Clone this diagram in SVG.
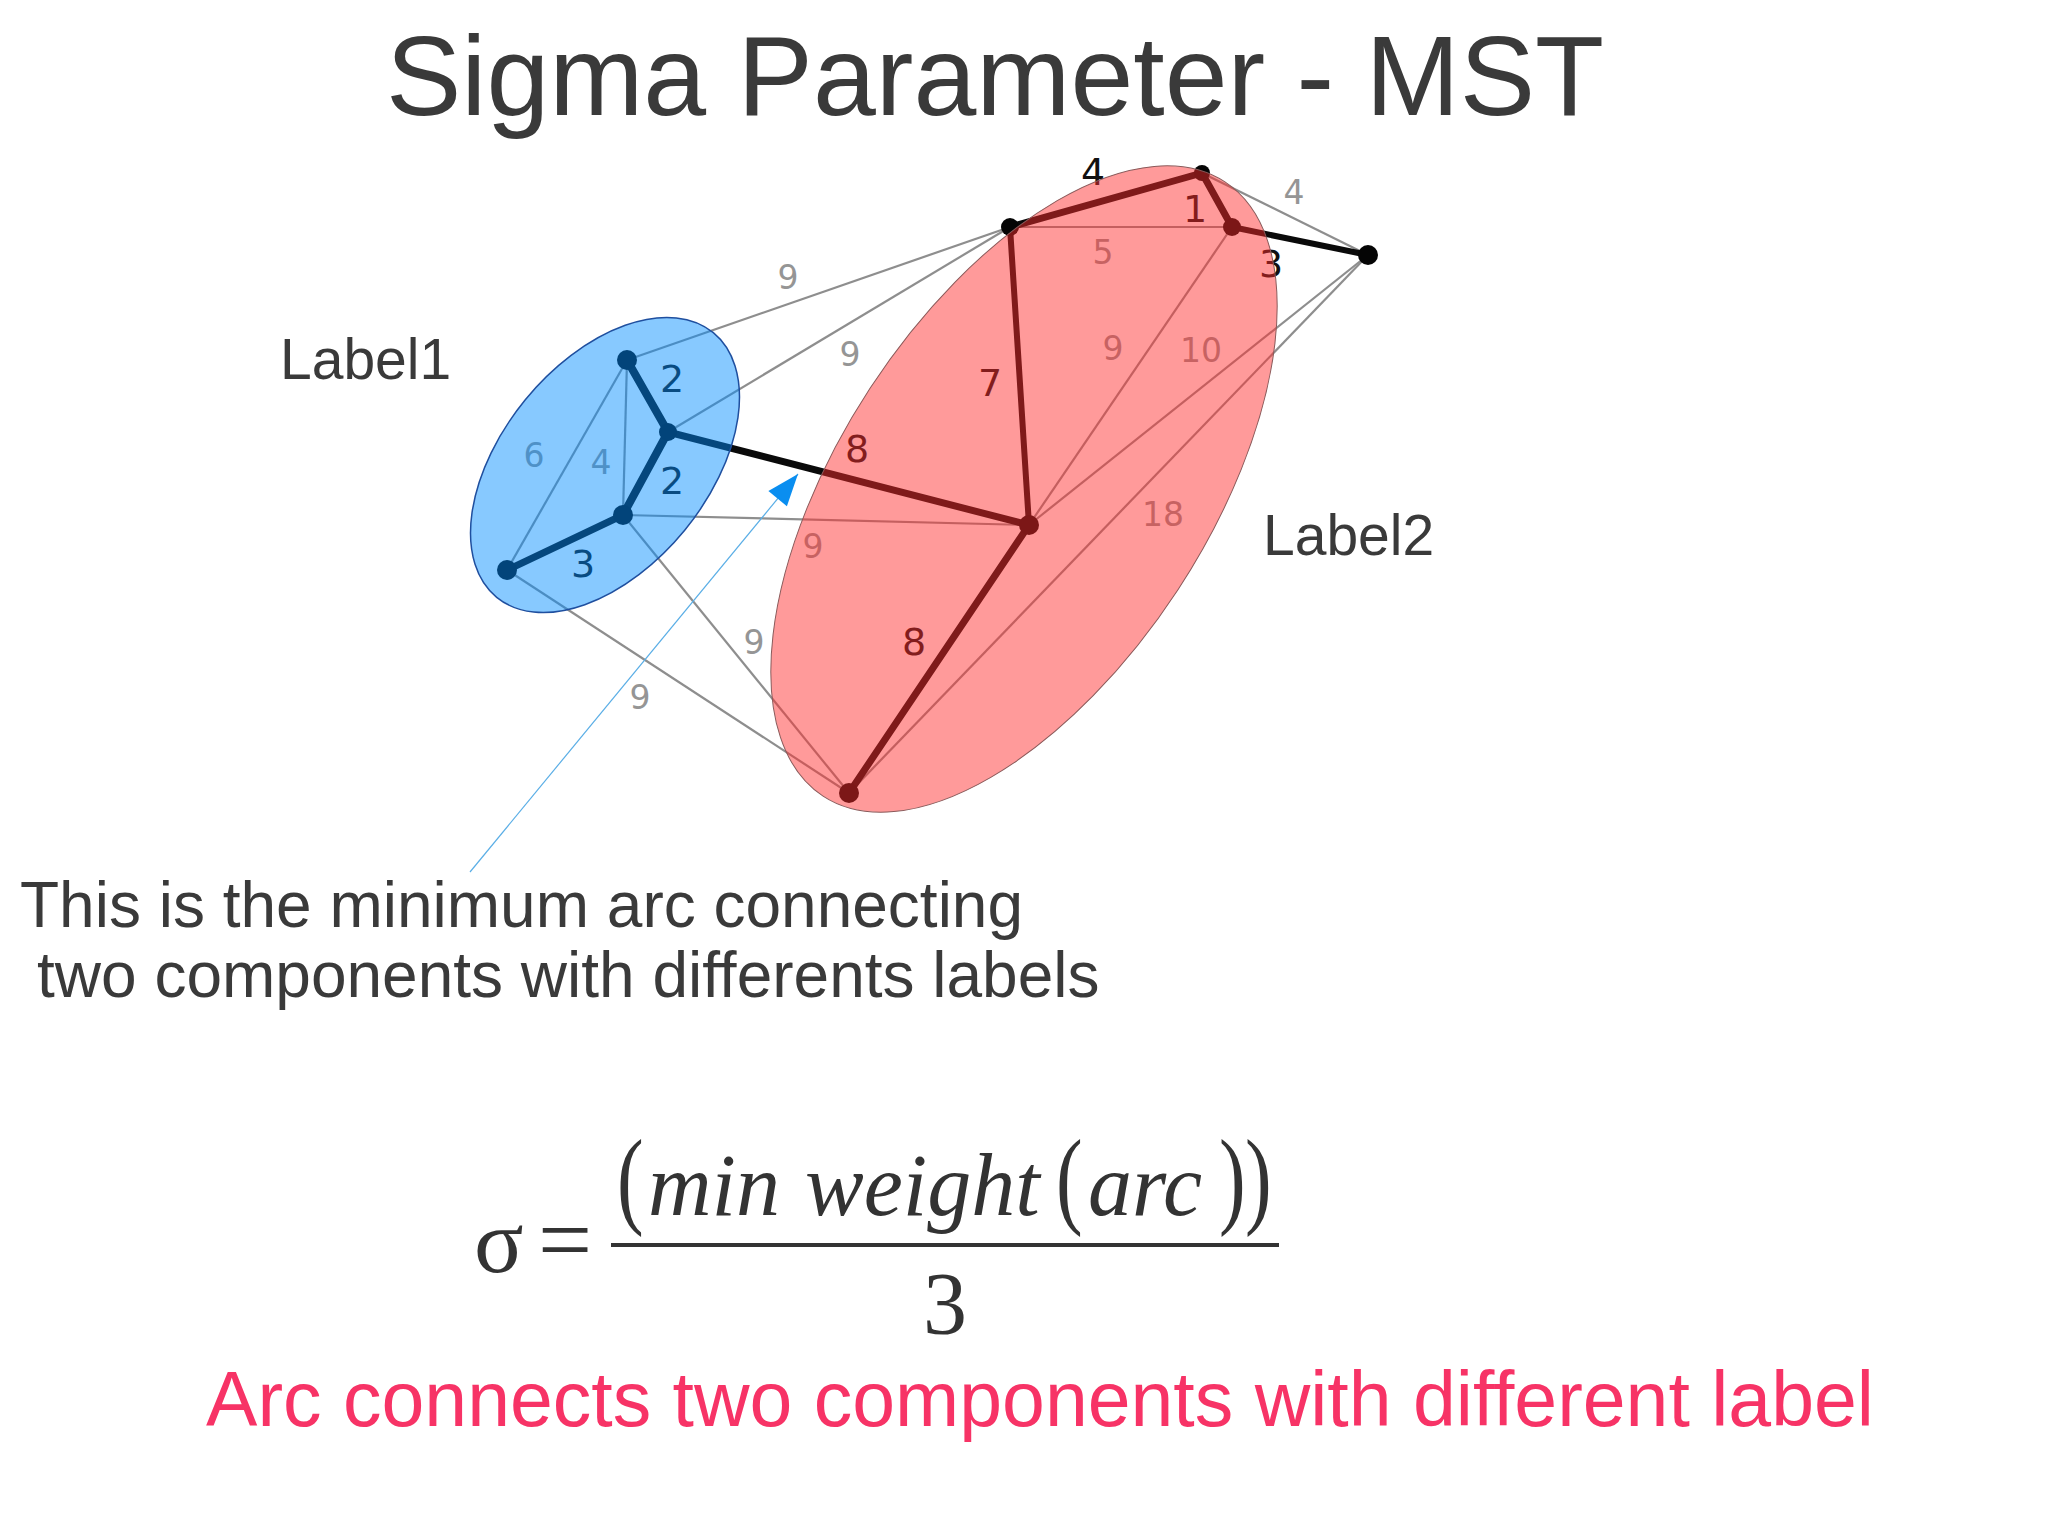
<svg xmlns="http://www.w3.org/2000/svg" width="2048" height="1535" viewBox="0 0 2048 1535">
<defs>
<style>
.sans{font-family:"Liberation Sans",Arial,sans-serif;fill:#3a3a3a}
.serif{font-family:"Liberation Serif","Times New Roman",serif;fill:#333}
.w{font-family:"DejaVu Sans",sans-serif;text-anchor:middle}
.wg{fill:#959595;font-size:33px}
.wk{fill:#111;font-size:38px}
.e{stroke:#8e8e8e;stroke-width:2.2;fill:none}
.m{stroke:#0a0a0a;stroke-linecap:round;fill:none}
.n{fill:#050505}
</style>
</defs>
<rect width="2048" height="1535" fill="#ffffff"/>
<text class="sans" x="995" y="115" font-size="113" text-anchor="middle">Sigma Parameter - MST</text>

<g id="connectors">
<line class="e" x1="627" y1="360" x2="1010" y2="227"/>
<line class="e" x1="668" y1="432" x2="1010" y2="227"/>
<line class="e" x1="627" y1="360" x2="507" y2="570" stroke-width="1.6"/>
<line class="e" x1="627" y1="360" x2="623" y2="515" stroke-width="1.6"/>
<line class="e" x1="623" y1="515" x2="1029" y2="525" stroke="#808080" stroke-width="2.6"/>
<line class="e" x1="623" y1="515" x2="849" y2="793"/>
<line class="e" x1="507" y1="570" x2="849" y2="793"/>
<line class="e" x1="1010" y1="227" x2="1232" y2="227" stroke-width="1.6"/>
<line class="e" x1="1202" y1="173" x2="1368" y2="255"/>
<line class="e" x1="1232" y1="227" x2="1029" y2="525" stroke-width="1.8"/>
<line class="e" x1="1368" y1="255" x2="1029" y2="525" stroke-width="1.8"/>
<line class="e" x1="1368" y1="255" x2="849" y2="793" stroke-width="1.8"/>
<line class="m" x1="627" y1="360" x2="668" y2="432" stroke-width="8"/>
<line class="m" x1="668" y1="432" x2="623" y2="515" stroke-width="8"/>
<line class="m" x1="623" y1="515" x2="507" y2="570" stroke-width="7"/>
<line class="m" x1="668" y1="432" x2="1029" y2="525" stroke-width="7"/>
<line class="m" x1="1010" y1="227" x2="1202" y2="173" stroke-width="7"/>
<line class="m" x1="1202" y1="173" x2="1232" y2="227" stroke-width="7"/>
<line class="m" x1="1232" y1="227" x2="1368" y2="255" stroke-width="6"/>
<line class="m" x1="1010" y1="227" x2="1029" y2="525" stroke-width="6"/>
<line class="m" x1="1029" y1="525" x2="849" y2="793" stroke-width="7"/>
</g>

<g id="edge-labels">
<text class="w wg" x="788" y="289">9</text>
<text class="w wg" x="850" y="366">9</text>
<text class="w wk" x="672" y="392">2</text>
<text class="w wk" x="672" y="494">2</text>
<text class="w wk" x="583" y="577">3</text>
<text class="w wg" x="534" y="467">6</text>
<text class="w wg" x="601" y="474">4</text>
<text class="w wk" x="857" y="462">8</text>
<text class="w wg" x="813" y="558">9</text>
<text class="w wg" x="754" y="654">9</text>
<text class="w wg" x="640" y="709">9</text>
<text class="w wk" x="1093" y="185">4</text>
<text class="w wk" x="1195" y="222">1</text>
<text class="w wg" x="1103" y="264">5</text>
<text class="w wg" x="1294" y="204">4</text>
<text class="w wk" x="1271" y="277">3</text>
<text class="w wk" x="990" y="396">7</text>
<text class="w wg" x="1113" y="360">9</text>
<text class="w wg" x="1201" y="362">10</text>
<text class="w wg" x="1163" y="526">18</text>
<text class="w wk" x="914" y="655">8</text>
</g>

<g id="node-A"><circle class="n" cx="627" cy="360" r="10"/></g>
<g id="node-B"><circle class="n" cx="668" cy="432" r="9"/></g>
<g id="node-C"><circle class="n" cx="623" cy="515" r="10"/></g>
<g id="node-D"><circle class="n" cx="507" cy="570" r="10"/></g>
<g id="node-E"><circle class="n" cx="1010" cy="227" r="9"/></g>
<g id="node-F"><circle class="n" cx="1202" cy="173" r="8"/></g>
<g id="node-G"><circle class="n" cx="1232" cy="227" r="9"/></g>
<g id="node-H"><circle class="n" cx="1368" cy="255" r="10"/></g>
<g id="node-I"><circle class="n" cx="1029" cy="525" r="10"/></g>
<g id="node-J"><circle class="n" cx="849" cy="793" r="10"/></g>

<g id="region-label1">
<ellipse cx="605" cy="465" rx="171" ry="103" transform="rotate(-50.7 605 465)" fill="rgb(0,140,255)" fill-opacity="0.47" stroke="#1f4f9f" stroke-width="1.5"/>
</g>
<g id="region-label2">
<ellipse cx="1024" cy="489" rx="367" ry="184" transform="rotate(-56.8 1024 489)" fill="rgb(255,44,44)" fill-opacity="0.48" stroke="#8a5a5a" stroke-width="1"/>
</g>

<text class="sans" x="280" y="379" font-size="57">Label1</text>
<text class="sans" x="1263" y="555" font-size="57">Label2</text>

<g id="pointer">
<line x1="470" y1="872" x2="798" y2="474" stroke="#5aaee6" stroke-width="1.2"/>
<polygon points="798,474 786.9,506.3 768.4,491.1" fill="#0a8ef0"/>
</g>

<text class="sans" x="20" y="927" font-size="64">This is the minimum arc connecting</text>
<text class="sans" x="37" y="997" font-size="64">two components with differents labels</text>

<g id="formula">
<text class="serif" x="474" y="1272" font-size="92">σ</text>
<text class="serif" x="538" y="1272" font-size="96">=</text>
<text class="serif" transform="translate(617 1214) scale(1 1.35)" font-size="80">(</text>
<text class="serif" x="648" y="1215" font-size="88" font-style="italic">min</text>
<text class="serif" x="805" y="1215" font-size="88" font-style="italic">weight</text>
<text class="serif" transform="translate(1056 1214) scale(1 1.35)" font-size="80">(</text>
<text class="serif" x="1088" y="1215" font-size="88" font-style="italic">arc</text>
<text class="serif" transform="translate(1219 1214) scale(1 1.35)" font-size="80">)</text>
<text class="serif" transform="translate(1245 1214) scale(1 1.35)" font-size="80">)</text>
<line x1="611" y1="1245" x2="1279" y2="1245" stroke="#333" stroke-width="4"/>
<text class="serif" x="945" y="1333" font-size="88" text-anchor="middle">3</text>
</g>

<text x="1040" y="1426" font-size="77" text-anchor="middle" style="font-family:'Liberation Sans',Arial,sans-serif;fill:#f73366">Arc connects two components with different label</text>
</svg>
